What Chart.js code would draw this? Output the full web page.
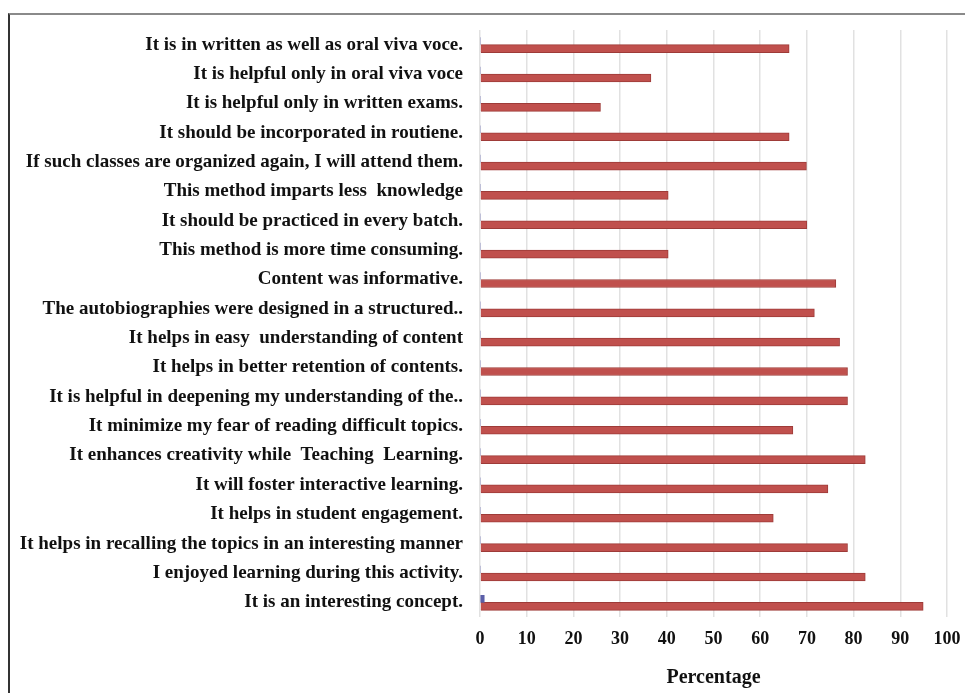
<!DOCTYPE html>
<html>
<head>
<meta charset="utf-8">
<script src="https://cdn.jsdelivr.net/npm/chart.js@4.4.0/dist/chart.umd.min.js"></script>
<style>
    html, body { margin: 0; padding: 0; background: #fff; }
    #wrap { position: relative; width: 965px; height: 693px; overflow: hidden; }
    #frame {
        position: absolute; left: 8px; top: 13px; right: -4px; bottom: -4px;
        border-top: 2px solid #8a8a8a; border-left: 2px solid #333;
    }
    canvas { position: absolute; left: 0; top: 0; }
</style>
</head>
<body>
<div id="wrap">
    <div id="frame"></div>
    <canvas id="chart" width="965" height="693"></canvas>
</div>
<script>
// Statements, top to bottom as shown
const statements = [
    'It is in written as well as oral viva voce.',
    'It is helpful only in oral viva voce',
    'It is helpful only in written exams.',
    'It should be incorporated in routiene.',
    'If such classes are organized again, I will attend them.',
    'This method imparts less  knowledge',
    'It should be practiced in every batch.',
    'This method is more time consuming.',
    'Content was informative.',
    'The autobiographies were designed in a structured..',
    'It helps in easy  understanding of content',
    'It helps in better retention of contents.',
    'It is helpful in deepening my understanding of the..',
    'It minimize my fear of reading difficult topics.',
    'It enhances creativity while  Teaching  Learning.',
    'It will foster interactive learning.',
    'It helps in student engagement.',
    'It helps in recalling the topics in an interesting manner',
    'I enjoyed learning during this activity.',
    'It is an interesting concept.'
];

// Small series (only visible on the last statement)
const seriesBlue = [0, 0, 0, 0, 0, 0, 0, 0, 0, 0, 0, 0, 0, 0, 0, 0, 0, 0, 0, 0.9];

// Percentage of agreement
const seriesRed = [66.2, 36.6, 25.8, 66.2, 69.9, 40.3, 70, 40.3, 76.2, 71.6,
                   77, 78.7, 78.7, 67, 82.5, 74.5, 62.8, 78.7, 82.5, 94.9];

const xTicks = [0, 10, 20, 30, 40, 50, 60, 70, 80, 90, 100];

const serif = '"Liberation Serif", "Times New Roman", serif';

new Chart(document.getElementById('chart'), {
    type: 'bar',
    data: {
        labels: statements,
        datasets: [{
            label: 'Series 1',
            data: seriesBlue,
            backgroundColor: '#5b5fa8',
            borderWidth: 0,
            barThickness: 7
        }, {
            label: 'Series 2',
            data: seriesRed,
            backgroundColor: '#c0504d',
            borderColor: '#9e3b38',
            borderWidth: 1,
            barThickness: 8
        }]
    },
    options: {
        indexAxis: 'y',
        responsive: false,
        animation: false,
        layout: { padding: { left: 0, right: 0, top: 30, bottom: 0 } },
        plugins: {
            legend: { display: false },
            tooltip: { enabled: false }
        },
        scales: {
            x: {
                min: 0,
                max: 100,
                afterBuildTicks: (scale) => {
                    scale.ticks = xTicks.map(v => ({ value: v }));
                },
                afterFit: (scale) => {
                    scale.height = 76;
                    scale.paddingRight = 18;
                },
                grid: { color: '#e1e1e1', lineWidth: 1.5, drawTicks: false },
                border: { display: false },
                ticks: {
                    padding: 12,
                    color: '#111',
                    font: { family: serif, size: 18, weight: 'bold' }
                },
                title: {
                    display: true,
                    text: 'Percentage',
                    color: '#111',
                    padding: { top: 6, bottom: 3 },
                    font: { family: serif, size: 20, weight: 'bold' }
                }
            },
            y: {
                afterFit: (scale) => { scale.width = 480; },
                grid: { display: false, drawTicks: false },
                border: { display: false },
                ticks: {
                    padding: 17,
                    color: '#111',
                    font: { family: serif, size: 19, weight: 'bold' }
                }
            }
        }
    }
});
</script>
</body>
</html>
